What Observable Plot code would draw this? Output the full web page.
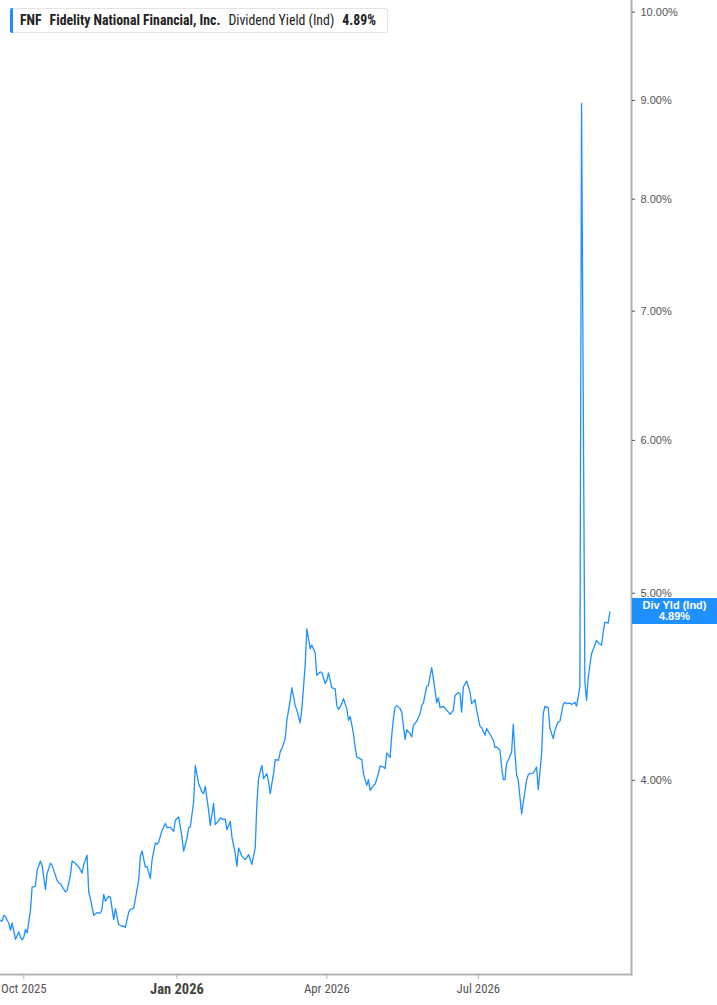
<!DOCTYPE html>
<html>
<head>
<meta charset="utf-8">
<script src="https://cdn.jsdelivr.net/npm/d3@7"></script>
<script src="https://cdn.jsdelivr.net/npm/@observablehq/plot@0.6"></script>
<style>
  html, body { margin: 0; padding: 0; background: #fff; }
  #wrap { position: relative; width: 717px; height: 1005px; overflow: hidden; }
  #legend {
    position: absolute; left: 10px; top: 8px; height: 25px; width: 378px;
    box-sizing: border-box; border: 1px solid #e4e4e4; border-left: none; border-radius: 3px;
    font-family: "Liberation Sans Narrow", "Roboto Condensed", Roboto, sans-serif; font-size: 13.8px; color: #222;
    line-height: 23px; white-space: nowrap; background: #fff;
  }
  #legend .bar { position: absolute; left: 0; top: -1px; bottom: -1px; width: 3px; background: #1e90ff; border-radius: 2px 0 0 2px; }
  #legend .txt { position: absolute; left: 10px; top: 0; }
  #legend b { font-weight: 700; }
  #legend .gap { display: inline-block; width: 8px; }
  #tag {
    position: absolute; left: 632px; top: 598px; width: 85px; height: 26px;
    background: #1e90ff; color: #fff; text-align: center;
    font-family: "Liberation Sans", Arial, sans-serif; font-weight: 700; font-size: 11px; line-height: 11px;
    padding-top: 2px; box-sizing: border-box;
  }
</style>
</head>
<body>
<div id="wrap">
  <div id="chart"></div>
  <div id="legend"><span class="bar"></span><span class="txt"></span></div>
  <div id="tag"></div>
</div>
<script>
const ticker = "FNF";
const company = "Fidelity National Financial, Inc.";
const metric = "Dividend Yield (Ind)";
const metricShort = "Div Yld (Ind)";
const lastValue = 4.89;

const dates = [
"2025-09-17","2025-09-18","2025-09-19","2025-09-20","2025-09-21","2025-09-22","2025-09-23","2025-09-24","2025-09-25","2025-09-26",
"2025-09-28","2025-09-29","2025-09-30","2025-10-01","2025-10-02","2025-10-03","2025-10-05","2025-10-06","2025-10-08","2025-10-09",
"2025-10-11","2025-10-12","2025-10-14","2025-10-15","2025-10-17","2025-10-18","2025-10-21","2025-10-22","2025-10-23","2025-10-26",
"2025-10-27","2025-10-29","2025-10-30","2025-11-01","2025-11-03","2025-11-05","2025-11-06","2025-11-08","2025-11-09","2025-11-10",
"2025-11-12","2025-11-14","2025-11-16","2025-11-17","2025-11-18","2025-11-19","2025-11-21","2025-11-22","2025-11-24","2025-11-25",
"2025-11-27","2025-11-29","2025-11-30","2025-12-01","2025-12-03","2025-12-04","2025-12-06","2025-12-09","2025-12-10","2025-12-11",
"2025-12-13","2025-12-14","2025-12-16","2025-12-17","2025-12-19","2025-12-20","2025-12-21","2025-12-23","2025-12-25","2025-12-26",
"2025-12-28","2025-12-29","2025-12-30","2025-12-31","2026-01-02","2026-01-04","2026-01-05","2026-01-07","2026-01-08","2026-01-09",
"2026-01-11","2026-01-12","2026-01-14","2026-01-16","2026-01-17","2026-01-18","2026-01-20","2026-01-21","2026-01-23","2026-01-24",
"2026-01-26","2026-01-27","2026-01-29","2026-01-30","2026-01-31","2026-02-02","2026-02-03","2026-02-05","2026-02-06","2026-02-07",
"2026-02-09","2026-02-11","2026-02-12","2026-02-13","2026-02-15","2026-02-17","2026-02-18","2026-02-19","2026-02-21","2026-02-22",
"2026-02-24","2026-02-25","2026-02-26","2026-02-28","2026-03-01","2026-03-03","2026-03-04","2026-03-05","2026-03-07","2026-03-08",
"2026-03-10","2026-03-11","2026-03-13","2026-03-14","2026-03-16","2026-03-17","2026-03-19","2026-03-20","2026-03-22","2026-03-23",
"2026-03-25","2026-03-26","2026-03-28","2026-03-29","2026-03-31","2026-04-01","2026-04-02","2026-04-04","2026-04-06","2026-04-07",
"2026-04-08","2026-04-10","2026-04-11","2026-04-13","2026-04-14","2026-04-15","2026-04-17","2026-04-18","2026-04-19","2026-04-21",
"2026-04-22","2026-04-23","2026-04-25","2026-04-26","2026-04-27","2026-04-29","2026-04-30","2026-05-02","2026-05-03","2026-05-05",
"2026-05-06","2026-05-07","2026-05-09","2026-05-10","2026-05-11","2026-05-12","2026-05-13","2026-05-15","2026-05-16","2026-05-18",
"2026-05-19","2026-05-21","2026-05-22","2026-05-23","2026-05-25","2026-05-27","2026-05-28","2026-05-29","2026-05-31","2026-06-01",
"2026-06-03","2026-06-04","2026-06-06","2026-06-07","2026-06-08","2026-06-10","2026-06-11","2026-06-13","2026-06-14","2026-06-16",
"2026-06-17","2026-06-19","2026-06-20","2026-06-21","2026-06-22","2026-06-24","2026-06-26","2026-06-27","2026-06-29","2026-06-30",
"2026-07-02","2026-07-03","2026-07-05","2026-07-06","2026-07-08","2026-07-10","2026-07-11","2026-07-12","2026-07-14","2026-07-15",
"2026-07-16","2026-07-17","2026-07-18","2026-07-19","2026-07-21","2026-07-22","2026-07-23","2026-07-24","2026-07-25","2026-07-27",
"2026-07-28","2026-07-30","2026-07-31","2026-08-01","2026-08-03","2026-08-05","2026-08-06","2026-08-08","2026-08-09","2026-08-10",
"2026-08-12","2026-08-13","2026-08-15","2026-08-16","2026-08-18","2026-08-19","2026-08-21","2026-08-22","2026-08-23","2026-08-25",
"2026-08-26","2026-08-28","2026-08-29","2026-08-30","2026-08-31","2026-09-01","2026-09-03","2026-09-04","2026-09-05","2026-09-07",
"2026-09-08","2026-09-10","2026-09-11","2026-09-13","2026-09-14","2026-09-15","2026-09-17","2026-09-18"
];

const yields = [
3.385,3.381,3.405,3.400,3.385,3.373,3.345,3.374,3.342,3.309,
3.338,3.318,3.307,3.318,3.348,3.334,3.425,3.522,3.526,3.593,
3.633,3.614,3.511,3.579,3.624,3.614,3.550,3.539,3.536,3.501,
3.508,3.572,3.633,3.622,3.607,3.581,3.618,3.658,3.501,3.473,
3.405,3.416,3.414,3.432,3.491,3.463,3.483,3.480,3.388,3.432,
3.368,3.361,3.361,3.356,3.418,3.429,3.433,3.550,3.654,3.677,
3.607,3.610,3.558,3.636,3.712,3.706,3.716,3.768,3.799,3.781,
3.783,3.773,3.764,3.814,3.829,3.739,3.676,3.732,3.781,3.783,
3.898,4.072,3.984,3.945,3.937,3.972,3.859,3.791,3.891,3.795,
3.811,3.825,3.817,3.819,3.771,3.809,3.739,3.665,3.610,3.690,
3.654,3.639,3.648,3.661,3.618,3.693,3.891,4.010,4.072,4.008,
4.032,3.992,3.937,4.032,4.100,4.097,4.138,4.154,4.204,4.297,
4.400,4.467,4.374,4.348,4.283,4.357,4.588,4.792,4.680,4.701,
4.656,4.534,4.552,4.549,4.489,4.507,4.547,4.467,4.462,4.374,
4.352,4.383,4.409,4.357,4.297,4.317,4.229,4.163,4.113,4.105,
4.100,4.032,3.976,4.003,3.952,3.976,3.981,4.032,4.069,4.064,
4.056,4.133,4.110,4.221,4.306,4.365,4.374,4.357,4.339,4.200,
4.249,4.229,4.213,4.271,4.292,4.331,4.374,4.386,4.475,4.479,
4.575,4.516,4.388,4.414,4.362,4.369,4.360,4.339,4.328,4.348,
4.426,4.442,4.435,4.339,4.471,4.503,4.444,4.383,4.404,4.348,
4.266,4.259,4.221,4.255,4.226,4.196,4.160,4.163,4.146,4.064,
4.003,4.003,4.084,4.097,4.138,4.277,4.130,4.024,4.000,3.843,
3.897,4.000,4.027,4.032,4.035,4.064,3.955,4.130,4.331,4.369,
4.362,4.255,4.204,4.246,4.289,4.292,4.379,4.390,4.383,4.386,
4.379,4.390,4.370,4.419,4.472,8.970,4.496,4.400,4.523,4.652,
4.676,4.727,4.714,4.699,4.774,4.831,4.825,4.890
];

const yTicks = [4, 5, 6, 7, 8, 9, 10];
const xTicks = ["2025-10-01", "2026-04-01", "2026-07-01"];
const xYearTicks = ["2026-01-01"];
const xDomain = ["2025-09-17", "2026-10-01"];
const yDomain = [3.173, 10.14];

const data = dates.map((d, i) => ({date: new Date(d), value: yields[i]}));

const blue = "#1e90ff";
const axisGray = "#b4b4b4";
const narrow = "'Liberation Sans Narrow', 'Roboto Condensed', Roboto, sans-serif";

const chart = Plot.plot({
  width: 717,
  height: 1005,
  marginLeft: 0,
  marginRight: 86,
  marginTop: 0,
  marginBottom: 31,
  style: {background: "#fff", fontFamily: "'Liberation Sans', Arial, sans-serif", overflow: "visible"},
  x: {type: "utc", domain: xDomain.map(d => new Date(d)), label: null},
  y: {type: "log", domain: yDomain, label: null},
  marks: [
    Plot.frame({anchor: "bottom", stroke: axisGray, strokeWidth: 2}),
    Plot.frame({anchor: "right", stroke: axisGray, strokeWidth: 2}),
    Plot.axisY({
      anchor: "right", ticks: yTicks, tickSize: 3, tickPadding: 6, label: null,
      tickFormat: d => d.toFixed(2) + "%", fontSize: 11, color: "#555", stroke: "#555"
    }),
    Plot.axisX({
      ticks: xTicks.map(d => new Date(d)), tickSize: 5, tickPadding: 4, label: null,
      tickFormat: d3.utcFormat("%b %Y"), fontSize: 12.8, color: "#555",
      stroke: axisGray, fontFamily: narrow
    }),
    Plot.axisX({
      ticks: xYearTicks.map(d => new Date(d)), tickSize: 5, tickPadding: 4, label: null,
      tickFormat: d3.utcFormat("%b %Y"), fontSize: 14.5, fontWeight: "bold", color: "#444",
      stroke: axisGray, fontFamily: narrow
    }),
    Plot.line(data, {x: "date", y: "value", stroke: blue, strokeWidth: 1.3})
  ]
});
document.getElementById("chart").appendChild(chart);

document.querySelector("#legend .txt").innerHTML =
  `<b>${ticker}</b><span class="gap"></span><b>${company}</b><span class="gap"></span>${metric}<span class="gap"></span><b>${lastValue.toFixed(2)}%</b>`;
document.getElementById("tag").innerHTML = `${metricShort}<br>${lastValue.toFixed(2)}%`;
</script>
</body>
</html>
